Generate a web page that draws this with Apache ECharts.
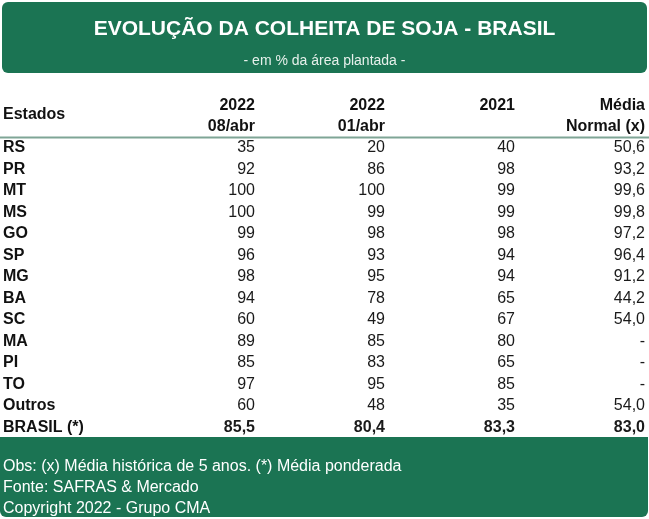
<!DOCTYPE html>
<html>
<head>
<meta charset="utf-8">
<style>
    html, body { margin: 0; padding: 0; background: #fff; }
    #tabela { width: 649px; height: 519px; }
</style>
<script src="https://cdn.jsdelivr.net/npm/echarts@6/dist/echarts.min.js"></script>
</head>
<body>
<div id="tabela"></div>
<script>
    // dados da tabela
    var estados = ['RS', 'PR', 'MT', 'MS', 'GO', 'SP', 'MG', 'BA', 'SC', 'MA', 'PI', 'TO', 'Outros', 'BRASIL (*)'];
    var colunas = ['2022\n08/abr', '2022\n01/abr', '2021\n ', 'Média\nNormal (x)'];
    var abr08 = [35, 92, 100, 100, 99, 96, 98, 94, 60, 89, 85, 97, 60, 85.5];
    var abr01 = [20, 86, 100, 99, 98, 93, 95, 78, 49, 85, 83, 95, 48, 80.4];
    var ano2021 = [40, 98, 99, 99, 98, 94, 94, 65, 67, 80, 65, 85, 35, 83.3];
    var mediaNormal = [50.6, 93.2, 99.6, 99.8, 97.2, 96.4, 91.2, 44.2, 54.0, null, null, null, 54.0, 83.0];

    var verde = '#1b7453';
    var fonte = "'Liberation Sans', Arial, sans-serif";

    // formata numero com virgula
    function fmt(v, decimal) {
        if (v === null || v === undefined) return '-';
        return decimal ? v.toFixed(1).replace('.', ',') : String(v);
    }

    function serie(valores, col) {
        var dados = [];
        for (var i = 0; i < estados.length; i++) {
            var total = i === estados.length - 1;
            dados.push({
                value: [colunas[col], estados[i], valores[i]],
                label: { fontWeight: total ? 'bold' : 'normal' }
            });
        }
        return {
            type: 'scatter',
            symbolSize: 0,
            silent: true,
            itemStyle: { opacity: 1 },
            data: dados,
            label: {
                show: true,
                position: 'left',
                distance: 0,
                opacity: 1,
                color: '#1a1a1a',
                fontSize: 16,
                fontFamily: fonte,
                formatter: function (p) {
                    var total = p.dataIndex === estados.length - 1;
                    return fmt(p.value[2], col === 3 || total);
                }
            }
        };
    }

    var myChart = echarts.init(document.getElementById('tabela'));
    var option = {
        animation: false,
        title: [
            {
                text: 'EVOLUÇÃO DA COLHEITA DE SOJA - BRASIL',
                left: 'center', top: 14,
                textStyle: { color: '#fff', fontSize: 21, fontWeight: 'bold', fontFamily: fonte }
            },
            {
                text: '- em % da área plantada -',
                left: 'center', top: 49,
                textStyle: { color: '#e6f0eb', fontSize: 14, fontWeight: 'normal', fontFamily: fonte }
            },
            {
                text: 'Estados',
                left: 3, top: 107,
                padding: 0,
                textStyle: { color: '#111', fontSize: 16, fontWeight: 'bold', fontFamily: fonte }
            },
            {
                text: 'Obs: (x) Média histórica de 5 anos. (*) Média ponderada\nFonte: SAFRAS & Mercado\nCopyright 2022 - Grupo CMA',
                left: 3, top: 456,
                padding: 0,
                textStyle: { color: '#fff', fontSize: 16, fontWeight: 'normal', lineHeight: 21, fontFamily: fonte }
            }
        ],
        graphic: [
            {
                type: 'rect', z: -1,
                shape: { x: 2, y: 2, width: 645, height: 71, r: 6 },
                style: { fill: verde }
            },
            {
                type: 'rect', z: -1,
                shape: { x: 0, y: 437, width: 648, height: 80, r: [0, 0, 6, 6] },
                style: { fill: verde }
            },
            {
                type: 'line', z: 5,
                shape: { x1: 0, y1: 137.5, x2: 649, y2: 137.5 },
                style: { stroke: '#7fa596', lineWidth: 2 }
            }
        ],
        grid: { left: 255, right: 4, top: 137, height: 301 },
        xAxis: {
            type: 'category',
            position: 'top',
            data: colunas,
            boundaryGap: false,
            axisLine: { show: false },
            axisTick: { show: false },
            splitLine: { show: false },
            axisLabel: {
                interval: 0,
                align: 'right',
                margin: 0,
                lineHeight: 21,
                color: '#111',
                fontSize: 16,
                fontWeight: 'bold',
                fontFamily: fonte
            }
        },
        yAxis: {
            type: 'category',
            inverse: true,
            data: estados,
            axisLine: { show: false },
            axisTick: { show: false },
            splitLine: { show: false },
            axisLabel: {
                interval: 0,
                align: 'left',
                margin: 252,
                color: '#111',
                fontSize: 16,
                fontWeight: 'bold',
                fontFamily: fonte
            }
        },
        series: [
            serie(abr08, 0),
            serie(abr01, 1),
            serie(ano2021, 2),
            serie(mediaNormal, 3)
        ]
    };
    myChart.setOption(option, true);
</script>
</body>
</html>
